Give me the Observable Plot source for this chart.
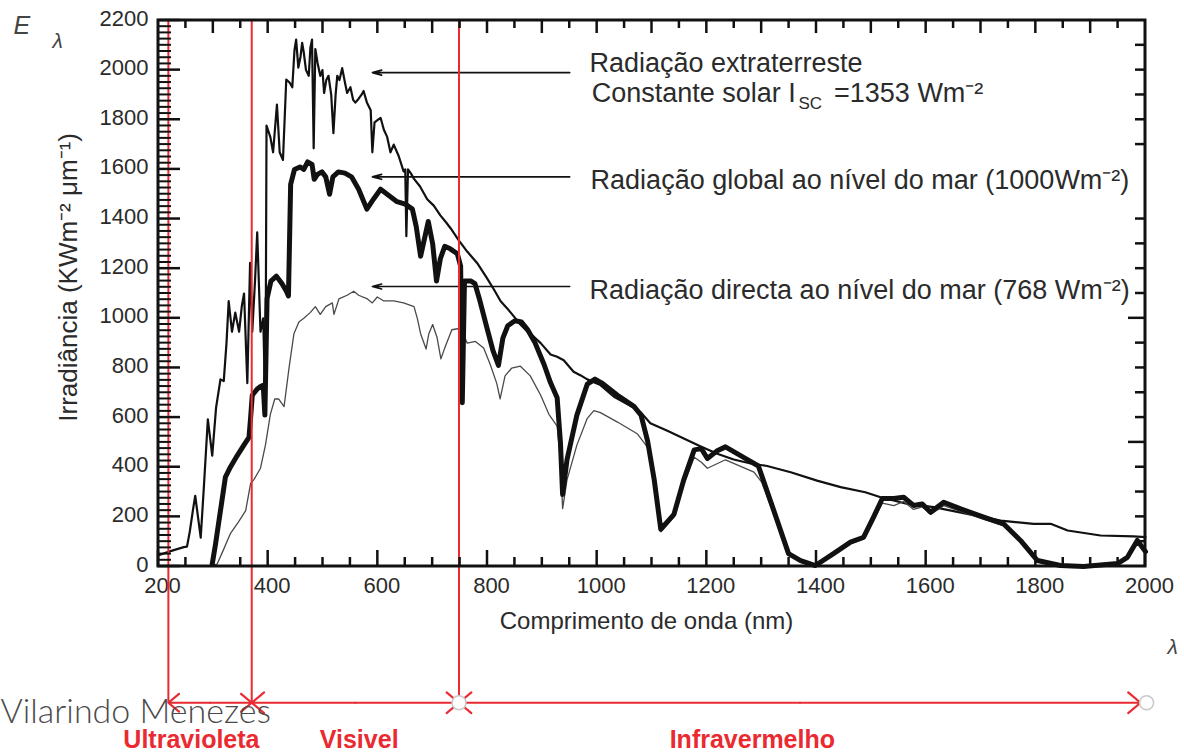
<!DOCTYPE html>
<html lang="pt">
<head>
<meta charset="utf-8">
<title>Espectro da radiação solar</title>
<script src="https://cdn.jsdelivr.net/npm/d3@7"></script>
<script src="https://cdn.jsdelivr.net/npm/@observablehq/plot@0.6"></script>
<style>
  html, body { margin: 0; padding: 0; background: #fff; }
  #grafico svg { display: block; }
</style>
</head>
<body>
<div id="grafico"></div>
<script>
// Irradiância espectral [comprimento de onda (nm), E_λ]
const extraterrestre = [
  [200, 45], [222, 62], [246, 78], [252, 80], [257, 140], [263, 230], [267, 285], [272, 200], [277, 116],
  [283, 330], [290, 593], [298, 447], [305, 640], [313, 754], [319, 747], [324, 900], [328, 1069], [334, 946],
  [340, 1023], [347, 946], [352, 1050], [356, 1100], [362, 739], [367, 1223], [371, 946], [376, 1150],
  [380, 1346], [386, 946], [391, 1000], [395, 623], [397, 1777], [404, 1730], [409, 1669], [416, 1861],
  [421, 1669], [427, 1638], [433, 1962], [439, 1950], [444, 1931], [448, 2080], [451, 2123], [455, 2010],
  [459, 2054], [462, 2110], [465, 2070], [469, 2000], [474, 1977], [477, 2090], [480, 2123], [483, 1685],
  [486, 2085], [490, 2030], [495, 1977], [499, 2000], [502, 1908], [506, 1960], [510, 1977], [515, 1900],
  [519, 1746], [523, 1900], [526, 1977], [530, 1960], [535, 2008], [540, 1950], [544, 1908], [550, 1931],
  [555, 1880], [559, 1869], [565, 1885], [570, 1900], [574, 1916], [580, 1870], [587, 1838], [590, 1669],
  [594, 1790], [600, 1800], [605, 1808], [611, 1760], [617, 1731], [623, 1669], [629, 1700], [638, 1654],
  [647, 1592], [650, 1600], [652, 1331], [655, 1600], [660, 1585], [666, 1562], [677, 1531], [690, 1480],
  [702, 1454], [714, 1415], [725, 1385], [733, 1362], [747, 1316], [763, 1269], [781, 1223], [799, 1162],
  [812, 1115], [824, 1069], [836, 1040], [848, 1008], [860, 975], [873, 946], [885, 925], [897, 900],
  [915, 854], [927, 845], [939, 831], [957, 785], [970, 770], [982, 754], [1006, 731], [1030, 685],
  [1067, 639], [1080, 620], [1097, 577], [1128, 547], [1158, 516], [1188, 485], [1219, 454], [1249, 431],
  [1280, 415], [1310, 405], [1353, 380], [1401, 346], [1444, 320], [1489, 299], [1517, 279], [1566, 252],
  [1614, 239], [1675, 212], [1736, 185], [1796, 172], [1827, 172], [1858, 145], [1918, 125], [1978, 121],
  [2000, 118]
];

const globalMar = [
  [298, 10], [304, 90], [313, 225], [322, 360], [331, 400], [343, 445], [356, 490], [365, 520], [368, 600],
  [371, 690], [380, 715], [386, 725], [391, 730], [394, 610], [398, 1080], [405, 1150], [415, 1170],
  [425, 1140], [433, 1110], [437, 1090], [441, 1540], [448, 1600], [458, 1610], [465, 1600], [472, 1630],
  [480, 1620], [484, 1560], [490, 1580], [498, 1590], [505, 1570], [512, 1500], [518, 1570], [528, 1590],
  [540, 1585], [552, 1570], [565, 1520], [580, 1440], [592, 1480], [605, 1520], [620, 1495], [635, 1470],
  [650, 1460], [663, 1440], [670, 1370], [678, 1250], [685, 1320], [692, 1390], [700, 1300], [707, 1150],
  [714, 1240], [722, 1290], [732, 1280], [745, 1260], [751, 1210], [754, 660], [758, 1150], [770, 1150],
  [777, 1140], [785, 1080], [798, 970], [810, 870], [820, 810], [828, 920], [837, 970], [850, 990],
  [862, 985], [873, 955], [886, 905], [903, 815], [915, 740], [927, 680], [933, 500], [937, 290], [945, 430],
  [963, 610], [982, 735], [996, 755], [1008, 740], [1037, 690], [1067, 645], [1080, 610], [1092, 505],
  [1104, 350], [1116, 150], [1130, 185], [1140, 210], [1158, 350], [1177, 470], [1190, 475], [1201, 435],
  [1218, 465], [1234, 482], [1267, 440], [1294, 405], [1322, 226], [1349, 52], [1371, 24], [1398, 4],
  [1431, 52], [1462, 98], [1486, 118], [1504, 199], [1520, 274], [1541, 274], [1559, 279], [1577, 246],
  [1593, 252], [1608, 219], [1632, 259], [1663, 232], [1705, 199], [1741, 172], [1772, 105], [1803, 24],
  [1845, 4], [1887, 0], [1949, 12], [1967, 37], [1985, 105], [2000, 60]
];

const directaMar = [
  [298, 5], [307, 10], [319, 70], [331, 132], [346, 180], [359, 225], [368, 335], [374, 350], [386, 396],
  [395, 489], [404, 613], [412, 675], [419, 675], [429, 644], [438, 799], [447, 938], [456, 985], [465, 1000],
  [477, 1024], [486, 1047], [495, 1016], [505, 1047], [517, 1062], [520, 1016], [529, 1078], [544, 1093],
  [556, 1109], [565, 1093], [581, 1078], [590, 1062], [599, 1086], [611, 1070], [629, 1070], [647, 1062],
  [666, 1047], [672, 1000], [678, 938], [688, 876], [693, 938], [700, 975], [708, 923], [715, 837],
  [722, 880], [735, 954], [751, 960], [763, 900], [778, 907], [793, 880], [805, 814], [817, 737], [823, 675],
  [832, 768], [844, 799], [860, 807], [878, 768], [897, 690], [912, 613], [927, 566], [933, 427], [937, 233],
  [945, 349], [963, 489], [982, 597], [994, 628], [1006, 620], [1037, 582], [1073, 535], [1092, 480],
  [1104, 330], [1116, 140], [1130, 175], [1140, 200], [1158, 330], [1177, 440], [1190, 420], [1201, 396],
  [1234, 430], [1286, 380], [1300, 340], [1322, 210], [1349, 45], [1371, 20], [1398, 3], [1431, 48],
  [1462, 92], [1486, 110], [1504, 185], [1520, 255], [1541, 245], [1559, 262], [1577, 230], [1593, 240],
  [1608, 210], [1632, 245], [1663, 222], [1705, 190], [1741, 165], [1772, 100], [1803, 22], [1845, 3],
  [1887, 0], [1949, 10], [1967, 32], [1985, 95], [2000, 55]
];

// Marcas dos eixos
const xMaior = d3.range(200, 2001, 200);
const xMenor = d3.range(250, 2000, 50).filter(v => v % 200 !== 0);
const xTopoMaior = d3.range(300, 2000, 100);
const xTopoMenor = d3.range(250, 2000, 100);
const yMaior = d3.range(0, 2201, 200);
const yMenorEsq = d3.range(25, 2200, 25).filter(v => v % 200 !== 0);
const yDirMaior = [500, 1000];
const yDirMenor = [100, 200, 300, 400, 600, 700, 800, 900, 1100, 1200, 1300, 1400, 1700, 1800, 1900, 2000, 2100];

// Legendas com setas
const setasCurvas = [
  {de: 950, para: 590, y: 1990},
  {de: 950, para: 590, y: 1570},
  {de: 950, para: 590, y: 1128}
];
const legendas = [
  {x: 986, y: 1992, texto: "Radiação extraterreste", tamanho: 27},
  {x: 990, y: 1871, texto: "Constante solar I", tamanho: 27},
  {x: 1367, y: 1844, texto: "SC", tamanho: 17},
  {x: 1432, y: 1871, texto: "=1353 Wm⁻²", tamanho: 27},
  {x: 988, y: 1522, texto: "Radiação global ao nível do mar (1000Wm⁻²)", tamanho: 27},
  {x: 986, y: 1079, texto: "Radiação directa ao nível do mar (768 Wm⁻²)", tamanho: 27}
];

// Regiões do espectro
const limitesRegioes = [218, 370, 748];
const yRegua = -549;
const setasRegioes = [
  {de: 294, para: 218}, {de: 294, para: 370},
  {de: 559, para: 370}, {de: 559, para: 748},
  {de: 1370, para: 748}, {de: 1370, para: 1991}
];
const pontosRegua = [748, 2002];
const nomesRegioes = [
  {x: 260, nome: "Ultravioleta"},
  {x: 566, nome: "Visivel"},
  {x: 1283, nome: "Infravermelho"}
];

const FONTE = '"Liberation Sans", Arial, sans-serif';
const TEXTO = "#2b2b2b";
const PRETO = "#111";
const VERMELHO = "#ea2a30";
const X0 = 200, X1 = 2000, Y0 = 0, Y1 = 2200;

const grafico = Plot.plot({
  width: 1184,
  height: 754,
  marginLeft: 158,
  marginRight: 39,
  marginTop: 20,
  marginBottom: 188,
  x: {domain: [X0, X1]},
  y: {domain: [Y0, Y1]},
  style: {fontFamily: FONTE, background: "#fff", overflow: "visible"},
  marks: [
    // curvas
    Plot.line(extraterrestre, {x: d => d[0], y: d => d[1], stroke: PRETO, strokeWidth: 2.2, strokeLinejoin: "round"}),
    Plot.line(directaMar, {x: d => d[0], y: d => d[1], stroke: "#4a4a4a", strokeWidth: 1.3, strokeLinejoin: "round"}),
    Plot.line(globalMar, {x: d => d[0], y: d => d[1], stroke: PRETO, strokeWidth: 5, strokeLinejoin: "round"}),

    // rótulos dos eixos
    Plot.axisX({ticks: xMaior, anchor: "bottom", tickSize: 0, tickPadding: 11, dx: 4, tickFormat: d => String(d), fontSize: 22, fill: TEXTO, label: null}),
    Plot.axisY({ticks: yMaior, anchor: "left", tickSize: 0, tickPadding: 10, dy: -2, tickFormat: d => String(d), fontSize: 22, fill: TEXTO, label: null}),
    Plot.text(["Comprimento de onda (nm)"], {x: 1090, frameAnchor: "bottom", dy: 62, text: d => d, lineAnchor: "bottom", fontSize: 24, fill: TEXTO}),
    Plot.text(["Irradiância (KWm⁻² μm⁻¹)"], {frameAnchor: "left", y: 1165, dx: -90, text: d => d, rotate: -90, textAnchor: "middle", lineAnchor: "middle", fontSize: 26, fill: TEXTO}),
    Plot.text(["E"], {frameAnchor: "top-left", dx: -145, dy: 13, text: d => d, textAnchor: "start", lineAnchor: "bottom", fontSize: 25, fontStyle: "italic", fill: "#444"}),
    Plot.text(["λ"], {frameAnchor: "top-left", dx: -106, dy: 27, text: d => d, textAnchor: "start", lineAnchor: "bottom", fontSize: 21, fontStyle: "italic", fill: "#444"}),
    Plot.text(["λ"], {frameAnchor: "bottom-right", dx: 22, dy: 87, text: d => d, textAnchor: "start", lineAnchor: "bottom", fontSize: 21, fontStyle: "italic", fill: "#444"}),

    // legendas das curvas
    Plot.arrow(setasCurvas, {x1: "de", x2: "para", y1: "y", y2: "y", stroke: PRETO, strokeWidth: 1.6, headLength: 9, headAngle: 30}),
    Plot.text(legendas, {x: "x", y: "y", text: "texto", fontSize: "tamanho", textAnchor: "start", lineAnchor: "bottom", fill: TEXTO}),

    // regiões do espectro
    Plot.ruleX(limitesRegioes, {x: d => d, y1: Y1, y2: yRegua, stroke: VERMELHO, strokeWidth: 2}),
    Plot.arrow(setasRegioes, {x1: "de", x2: "para", y1: () => yRegua, y2: () => yRegua, stroke: VERMELHO, strokeWidth: 2.2, headLength: 11, headAngle: 80}),
    Plot.dot(pontosRegua, {x: d => d, y: () => yRegua, r: 7, fill: "#fff", stroke: "#c8c8c8", strokeWidth: 1.5}),
    Plot.text(nomesRegioes, {x: "x", y: () => -733, text: "nome", fontSize: 25, fontWeight: "bold", lineAnchor: "bottom", fill: VERMELHO}),

    // assinatura
    Plot.text(["Vilarindo Menezes"], {frameAnchor: "bottom-left", dx: -158, dy: 156, text: d => d, textAnchor: "start", lineAnchor: "bottom", fontFamily: "Lato, 'Open Sans', sans-serif", fontWeight: 300, fontSize: 34, fill: "#4a4a4a"})
  ]
});

document.getElementById("grafico").append(grafico);

// Moldura e traços dos eixos (virados para dentro), posicionados pelas escalas do gráfico
const sx = grafico.scale("x");
const sy = grafico.scale("y");
const esq = sx.apply(X0), dir = sx.apply(X1), base = sy.apply(Y0), topo = sy.apply(Y1);
const camada = d3.select(grafico).append("g")
  .attr("aria-label", "traços dos eixos")
  .attr("stroke", PRETO)
  .attr("fill", "none");

function tracosVerticais(valores, y, comprimento, largura = 2.5) {
  camada.append("g").attr("stroke-width", largura).selectAll("line").data(valores).join("line")
    .attr("x1", v => sx.apply(v)).attr("x2", v => sx.apply(v))
    .attr("y1", y).attr("y2", y + comprimento);
}
function tracosHorizontais(valores, x, comprimento, largura = 2.5) {
  camada.append("g").attr("stroke-width", largura).selectAll("line").data(valores).join("line")
    .attr("y1", v => sy.apply(v)).attr("y2", v => sy.apply(v))
    .attr("x1", x).attr("x2", x + comprimento);
}

tracosVerticais(xMaior, base, -16);
tracosVerticais(xMenor, base, -9);
tracosVerticais(xTopoMaior, topo, 13);
tracosVerticais(xTopoMenor, topo, 8);
tracosHorizontais(yMaior, esq, 22);
tracosHorizontais(yMenorEsq, esq, 13, 2);
tracosHorizontais(yDirMaior, dir, -17);
tracosHorizontais(yDirMenor, dir, -10);

camada.append("rect")
  .attr("x", esq).attr("y", topo)
  .attr("width", dir - esq).attr("height", base - topo)
  .attr("stroke-width", 3);
</script>
</body>
</html>
